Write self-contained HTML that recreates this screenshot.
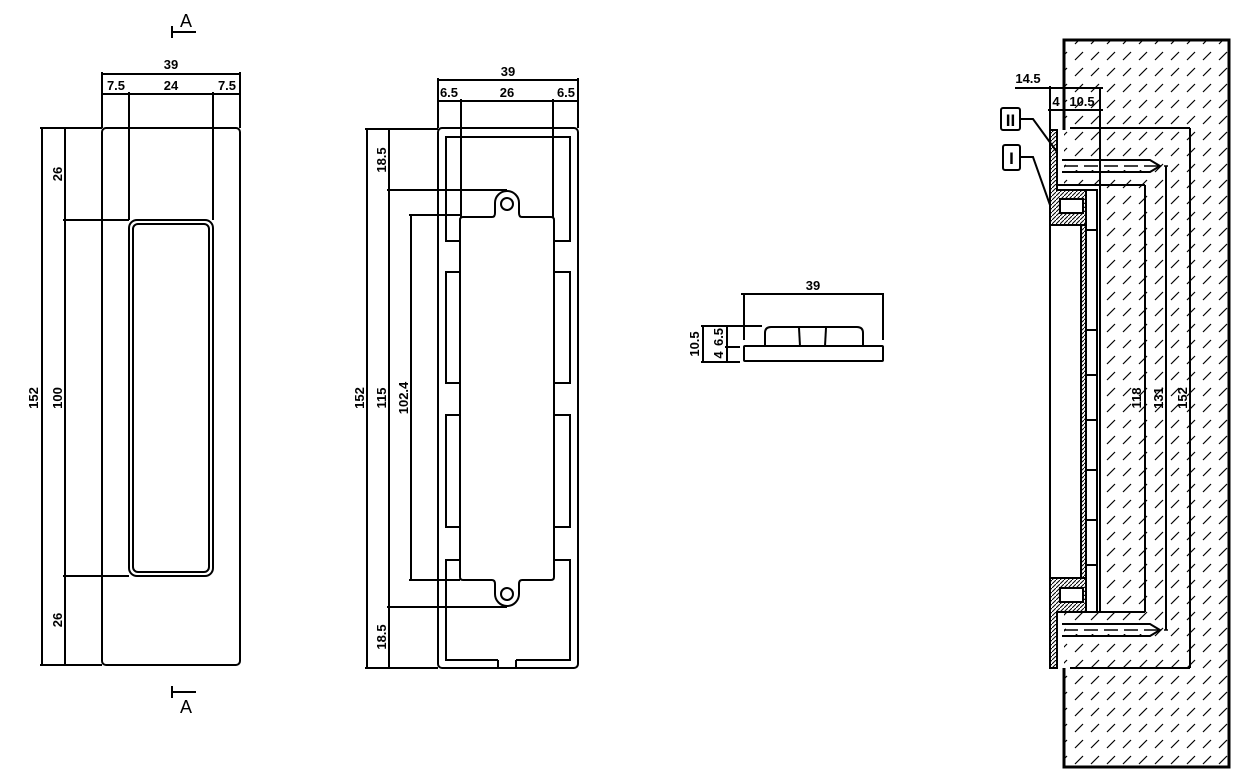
<!DOCTYPE html>
<html><head><meta charset="utf-8"><style>
html,body{margin:0;padding:0;background:#fff}
svg{display:block}
text{font-family:"Liberation Sans",sans-serif;font-size:13px;font-weight:bold;fill:#000}
</style></head><body>
<svg width="1258" height="777" viewBox="0 0 1258 777" xmlns="http://www.w3.org/2000/svg">
<defs>
<pattern id="h" width="16" height="16" patternUnits="userSpaceOnUse">
<line x1="3" y1="12" x2="11" y2="4" stroke="#000" stroke-width="1.2"/>
</pattern>
<pattern id="d" width="4" height="4" patternUnits="userSpaceOnUse">
<line x1="0" y1="4" x2="4" y2="0" stroke="#000" stroke-width="1"/>
</pattern>
</defs>
<g stroke="#000" stroke-width="2" fill="none">
<!-- VIEW 1 -->
<rect x="102" y="128" width="138" height="537" rx="4"/>
<rect x="129" y="220" width="84" height="356" rx="8"/>
<rect x="133" y="224" width="76" height="348" rx="5"/>
<line x1="102" y1="74" x2="240" y2="74"/>
<line x1="102" y1="94" x2="240" y2="94"/>
<line x1="102" y1="72" x2="102" y2="128"/>
<line x1="240" y1="72" x2="240" y2="128"/>
<line x1="129" y1="92" x2="129" y2="220"/>
<line x1="213" y1="92" x2="213" y2="220"/>
<line x1="42" y1="128" x2="42" y2="665"/>
<line x1="65" y1="128" x2="65" y2="665"/>
<line x1="40" y1="128" x2="102" y2="128"/>
<line x1="63" y1="220" x2="129" y2="220"/>
<line x1="63" y1="576" x2="129" y2="576"/>
<line x1="40" y1="665" x2="102" y2="665"/>
<line x1="172" y1="26" x2="172" y2="38"/>
<line x1="172" y1="32" x2="196" y2="32"/>
<line x1="172" y1="686" x2="172" y2="698"/>
<line x1="172" y1="692" x2="196" y2="692"/>
<!-- VIEW 2 -->
<rect x="438" y="128" width="140" height="540" rx="4"/>
<path d="M498 660 H446 V560 H460 M460 527 H446 V415 H460 M460 383 H446 V272 H460 M460 241 H446 V137 H570 V241 H554 M554 272 H570 V383 H554 M554 415 H570 V527 H554 M554 560 H570 V660 H516"/>
<path d="M498 660 V668 M516 660 V668"/>
<path d="M460 220 Q460 217 463 217 H492 Q495 217 495 213 V203 A12 12 0 0 1 519 203 V213 Q519 217 522 217 H551 Q554 217 554 220 V577 Q554 580 551 580 H522 Q519 580 519 584 V594 A12 12 0 0 1 495 594 V584 Q495 580 492 580 H463 Q460 580 460 577 Z"/>
<circle cx="507" cy="204" r="6"/>
<circle cx="507" cy="594" r="6"/>
<line x1="438" y1="80" x2="578" y2="80"/>
<line x1="438" y1="101" x2="578" y2="101"/>
<line x1="438" y1="78" x2="438" y2="128"/>
<line x1="578" y1="78" x2="578" y2="128"/>
<line x1="461" y1="99" x2="461" y2="217"/>
<line x1="553" y1="99" x2="553" y2="217"/>
<line x1="367" y1="129" x2="367" y2="668"/>
<line x1="389" y1="129" x2="389" y2="668"/>
<line x1="411" y1="215" x2="411" y2="580"/>
<line x1="365" y1="129" x2="438" y2="129"/>
<line x1="387" y1="190" x2="507" y2="190"/>
<line x1="409" y1="215" x2="460" y2="215"/>
<line x1="409" y1="580" x2="460" y2="580"/>
<line x1="387" y1="607" x2="507" y2="607"/>
<line x1="365" y1="668" x2="438" y2="668"/>
<!-- VIEW 3 -->
<rect x="744" y="346" width="139" height="15" rx="1"/>
<path d="M765 346 V333 Q765 327 771 327 H857 Q863 327 863 333 V346"/>
<line x1="799" y1="328" x2="800" y2="346"/>
<line x1="826" y1="328" x2="825" y2="346"/>
<line x1="741" y1="294" x2="884" y2="294"/>
<line x1="744" y1="294" x2="744" y2="340"/>
<line x1="883" y1="294" x2="883" y2="340"/>
<line x1="703" y1="326" x2="703" y2="362"/>
<line x1="727" y1="326" x2="727" y2="362"/>
<line x1="701" y1="326" x2="762" y2="326"/>
<line x1="725" y1="347" x2="740" y2="347"/>
<line x1="701" y1="362" x2="740" y2="362"/>
</g>
<g>
<text x="171" y="69" text-anchor="middle">39</text>
<text x="116" y="90" text-anchor="middle">7.5</text>
<text x="171" y="90" text-anchor="middle">24</text>
<text x="227" y="90" text-anchor="middle">7.5</text>
<text transform="translate(62,174) rotate(-90)" text-anchor="middle">26</text>
<text transform="translate(62,398) rotate(-90)" text-anchor="middle">100</text>
<text transform="translate(62,620) rotate(-90)" text-anchor="middle">26</text>
<text transform="translate(38,398) rotate(-90)" text-anchor="middle">152</text>
<text x="186" y="27" text-anchor="middle" style="font-size:18px;font-weight:normal">A</text>
<text x="186" y="713" text-anchor="middle" style="font-size:18px;font-weight:normal">A</text>
<text x="508" y="76" text-anchor="middle">39</text>
<text x="449" y="97" text-anchor="middle">6.5</text>
<text x="507" y="97" text-anchor="middle">26</text>
<text x="566" y="97" text-anchor="middle">6.5</text>
<text transform="translate(364,398) rotate(-90)" text-anchor="middle">152</text>
<text transform="translate(386,160) rotate(-90)" text-anchor="middle">18.5</text>
<text transform="translate(386,398) rotate(-90)" text-anchor="middle">115</text>
<text transform="translate(386,637) rotate(-90)" text-anchor="middle">18.5</text>
<text transform="translate(408,398) rotate(-90)" text-anchor="middle">102.4</text>
<text x="813" y="290" text-anchor="middle">39</text>
<text transform="translate(699,344) rotate(-90)" text-anchor="middle">10.5</text>
<text transform="translate(723,337) rotate(-90)" text-anchor="middle">6.5</text>
<text transform="translate(723,355) rotate(-90)" text-anchor="middle">4</text>
</g>
<!-- VIEW 4 -->
<rect x="1064" y="40" width="165" height="727" fill="url(#h)"/>
<rect x="1050" y="185" width="50" height="427" fill="#fff"/>
<rect x="1066" y="162" width="90" height="8" fill="#fff"/>
<rect x="1066" y="626" width="90" height="8" fill="#fff"/>
<g stroke="#000" fill="none" stroke-width="2">
<path d="M1064 130 V40 H1229 V767 H1064 V668" stroke-width="3"/>
<path d="M1050 130 H1057 V190 H1086 V225 H1050 Z" fill="url(#d)"/>
<path d="M1050 578 H1086 V612 H1057 V668 H1050 Z" fill="url(#d)"/>
<rect x="1081" y="225" width="5" height="353" fill="url(#d)"/>
<rect x="1060" y="199" width="23" height="14" fill="#fff"/>
<rect x="1060" y="588" width="23" height="14" fill="#fff"/>
<line x1="1050" y1="225" x2="1050" y2="578"/>
<rect x="1086" y="190" width="11" height="422" fill="#fff"/>
<path d="M1086 230 H1097 M1086 330 H1097 M1086 375 H1097 M1086 420 H1097 M1086 470 H1097 M1086 520 H1097 M1086 565 H1097"/>
<line x1="1057" y1="185" x2="1100" y2="185"/>
<line x1="1057" y1="612" x2="1100" y2="612"/>
<line x1="1100" y1="88" x2="1100" y2="612"/>
<line x1="1100" y1="185" x2="1145" y2="185"/>
<line x1="1100" y1="612" x2="1145" y2="612"/>
<path d="M1062 160 H1150 L1160 166 L1150 172 H1062"/>
<path d="M1062 624 H1150 L1160 630 L1150 636 H1062"/>
<line x1="1064" y1="166" x2="1168" y2="166" stroke-dasharray="14 6" stroke-width="1.5"/>
<line x1="1064" y1="630" x2="1168" y2="630" stroke-dasharray="14 6" stroke-width="1.5"/>
<line x1="1070" y1="128" x2="1190" y2="128"/>
<line x1="1190" y1="128" x2="1190" y2="668"/>
<line x1="1070" y1="668" x2="1190" y2="668"/>
<line x1="1166" y1="166" x2="1166" y2="630"/>
<line x1="1145" y1="185" x2="1145" y2="612"/>
<line x1="1015" y1="88" x2="1103" y2="88"/>
<line x1="1048" y1="110" x2="1103" y2="110"/>
<line x1="1050" y1="86" x2="1050" y2="130"/>
<line x1="1064" y1="106" x2="1064" y2="114"/>
<rect x="1001" y="108" width="19" height="22" rx="2"/>
<rect x="1003" y="145" width="17" height="25" rx="2"/>
<path d="M1020 119 H1033 L1057 152"/>
<path d="M1020 157 H1033 L1050 205"/>
</g>
<g>
<text x="1028" y="83" text-anchor="middle">14.5</text>
<text x="1056" y="106" text-anchor="middle">4</text>
<text x="1082" y="106" text-anchor="middle">10.5</text>
<text x="1010.5" y="126" text-anchor="middle" style="font-size:17px">II</text>
<text x="1011.5" y="164" text-anchor="middle" style="font-size:17px">I</text>
<text transform="translate(1141,398) rotate(-90)" text-anchor="middle">118</text>
<text transform="translate(1163,398) rotate(-90)" text-anchor="middle">131</text>
<text transform="translate(1187,398) rotate(-90)" text-anchor="middle">152</text>
</g>
</svg>
</body></html>
